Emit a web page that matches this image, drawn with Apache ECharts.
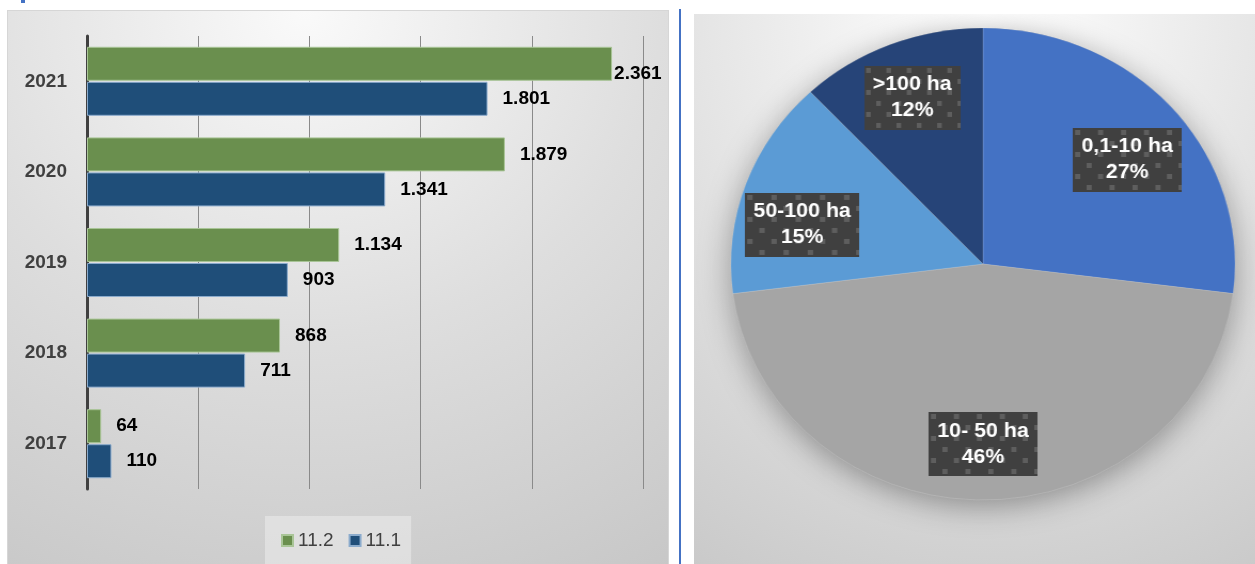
<!DOCTYPE html>
<html><head><meta charset="utf-8">
<script src="https://cdn.jsdelivr.net/npm/echarts@6/dist/echarts.min.js"></script>
<style>
html,body{margin:0;padding:0;width:1255px;height:564px;overflow:hidden;background:#fff;font-family:'Liberation Sans',Arial,sans-serif;}
.abs{position:absolute;}
#leftbg{left:7px;top:10px;width:662px;height:554px;box-sizing:border-box;border:1px solid #d6d6d6;border-bottom:none;
  background:radial-gradient(ellipse 120% 130% at 45% 0%, #fafafa 0%, #dedede 45%, #c2c2c2 100%);}
#left{left:7px;top:10px;width:662px;height:554px;}
#divider{left:679px;top:9px;width:2px;height:555px;background:#4472C4;}
#rightbg{left:694px;top:14px;width:561px;height:550px;
  background:radial-gradient(ellipse 110% 120% at 52% 0%, #ffffff 0%, #e4e4e4 48%, #c7c7c7 100%);}
#right{left:694px;top:14px;width:561px;height:550px;transform:scaleX(1.068);transform-origin:289px 250px;}
#mark{left:21px;top:0;width:4px;height:3px;background:#4472C4;}
</style></head>
<body>
<div id="mark" class="abs"></div>
<div id="leftbg" class="abs"></div>
<div id="left" class="abs"></div>
<div id="divider" class="abs"></div>
<div id="rightbg" class="abs"></div>
<div id="right" class="abs"></div>
<script>
// ---- data ----
var years = ['2017', '2018', '2019', '2020', '2021'];
var seriesNames = ['11.2', '11.1'];
var values112 = [64, 868, 1134, 1879, 2361];
var values111 = [110, 711, 903, 1341, 1801];
var pieNames = ['0,1-10 ha', '10- 50 ha', '50-100 ha', '>100 ha'];
var pieValues = [27, 46, 15, 12];

var FONT = 'Liberation Sans';
function fmt(v) { return String(v).replace(/\B(?=(\d{3})+(?!\d))/g, '.'); }

// ---- bar chart ----
var left = echarts.init(document.getElementById('left'), null, {renderer: 'canvas'});
var LIMIT = 656;
function keepInside(p) {
  if (p.labelRect.x + p.labelRect.width > LIMIT) {
    return {x: p.rect.x + p.rect.width + 2};
  }
  return {};
}
var barLabel = {
  show: true, position: 'right', distance: 15,
  fontFamily: FONT, fontWeight: 'bold', fontSize: 19, color: '#000',
  formatter: function (p) { return fmt(p.value); }
};
left.setOption({
  animation: false,
  grid: {left: 80, top: 26, width: 556, height: 453},
  legend: {
    data: [seriesNames[0], seriesNames[1]],
    left: 258, top: 506, icon: 'rect', itemWidth: 11, itemHeight: 11, itemGap: 15,
    padding: [15, 10, 14, 16], backgroundColor: 'rgba(236,236,236,0.55)',
    textStyle: {fontFamily: FONT, fontSize: 19, color: '#404040'}
  },
  xAxis: {
    type: 'value', min: 0, max: 2500, interval: 500,
    axisLine: {show: false}, axisTick: {show: false}, axisLabel: {show: false},
    splitLine: {show: true, lineStyle: {color: '#8a8a8a', width: 1}}
  },
  yAxis: {
    type: 'category', data: years,
    axisLine: {show: true, lineStyle: {color: '#404040', width: 3}},
    axisTick: {show: false},
    axisLabel: {fontFamily: FONT, fontWeight: 'bold', fontSize: 19, color: '#404040', margin: 20}
  },
  series: [
    {
      name: seriesNames[0], type: 'bar', data: values112, barWidth: 34, barGap: '3%',
      itemStyle: {color: '#6A8F4E', borderColor: '#a9c597', borderWidth: 1},
      label: barLabel, labelLayout: keepInside
    },
    {
      name: seriesNames[1], type: 'bar', data: values111, barWidth: 34, barGap: '3%',
      itemStyle: {color: '#1F4E79', borderColor: '#8babcc', borderWidth: 1},
      label: barLabel, labelLayout: keepInside
    }
  ]
});

// ---- pie chart ----
function makePattern(w, h) {
  var c = document.createElement('canvas');
  c.width = w; c.height = h;
  var g = c.getContext('2d');
  g.fillStyle = '#404040'; g.fillRect(0, 0, w, h);
  g.fillStyle = '#5e5e5e';
  var row = 0;
  for (var y = 0; y < h; y += 11, row++) {
    for (var x = (row % 2 ? 11 : 0); x < w; x += 22) {
      g.fillRect(x + 2, y + 2, 5, 5);
    }
  }
  return c;
}
var pat = makePattern(104, 64);
var right = echarts.init(document.getElementById('right'), null, {renderer: 'canvas'});
var R = 236, CX = 289, CY = 250;
var pieData = pieNames.map(function (n, i) { return {name: n, value: pieValues[i]}; });
var total = pieValues.reduce(function (a, b) { return a + b; }, 0);
// labels in the upper half that sit far to the side are nudged down a little
function pieLabelLayout(p) {
  var r = p.labelRect;
  var dx = r.x + r.width / 2 - CX, dy = r.y + r.height / 2 - CY;
  if (dy < 0) {
    var s = Math.max(0, 0.2 * Math.abs(dx) - 12);
    return {dy: s};
  }
  return {};
}
right.setOption({
  animation: false,
  color: ['#4472C4', '#A5A5A5', '#5B9BD5', '#264478'],
  series: [
    {
      type: 'pie', radius: R, center: [CX, CY], silent: true, z: 1,
      data: [{name: 'all', value: total}],
      label: {show: false}, labelLine: {show: false},
      itemStyle: {color: '#a5a5a5', shadowBlur: 30, shadowColor: 'rgba(0,0,0,0.35)', shadowOffsetY: 6}
    },
    {
      type: 'pie', radius: R, center: [CX, CY], startAngle: 90, clockwise: true, z: 2,
      data: pieData, silent: true,
      label: {show: false}, labelLine: {show: false},
      itemStyle: {borderColor: 'rgba(255,255,255,0.25)', borderWidth: 0.6}
    },
    {
      type: 'pie', radius: [R * 0.5, R], center: [CX, CY], startAngle: 90, clockwise: true, z: 3,
      data: pieData, silent: true,
      itemStyle: {color: 'rgba(0,0,0,0)'},
      labelLine: {show: false},
      labelLayout: pieLabelLayout,
      label: {
        show: true, position: 'inside',
        formatter: function (p) { return p.name + '\n' + Math.round(p.percent) + '%'; },
        fontFamily: FONT, fontWeight: 'bold', fontSize: 20, lineHeight: 26, color: '#ffffff',
        backgroundColor: {image: pat}, padding: [6, 8],
        shadowBlur: 4, shadowOffsetX: 3, shadowOffsetY: 3, shadowColor: 'rgba(0,0,0,0.45)'
      }
    }
  ]
});
</script>
</body></html>
